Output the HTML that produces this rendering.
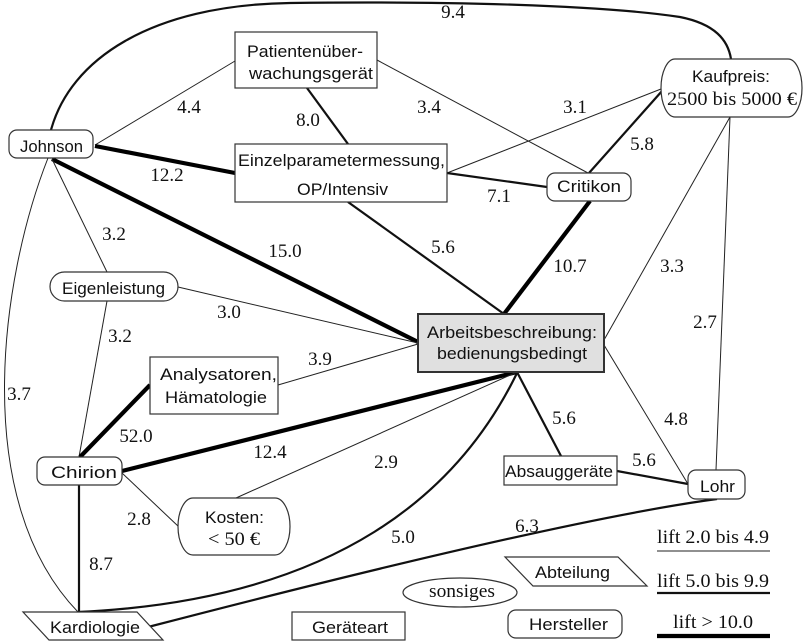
<!DOCTYPE html>
<html>
<head>
<meta charset="utf-8">
<style>
html,body{margin:0;padding:0;background:#fff;}
svg{display:block;}
.t1{stroke:#222;stroke-width:1;fill:none;}
.t2{stroke:#111;stroke-width:2.2;fill:none;}
.t3{stroke:#000;stroke-width:4.2;fill:none;}
.b{fill:#fff;stroke:#333;stroke-width:1.2;}
</style>
</head>
<body>
<svg width="804" height="642" viewBox="0 0 804 642" xmlns="http://www.w3.org/2000/svg">
<!-- edges -->
<path class="t2" d="M51,130 C70,60 150,5 290,3 C450,1 600,5 680,17 C715,24 728,40 731,59"/>
<path class="t1" d="M48,158 C0,280 -30,500 78,612"/>
<line class="t1" x1="95" y1="145" x2="235" y2="61"/>
<line class="t3" x1="95" y1="146" x2="235" y2="173"/>
<line class="t3" x1="52" y1="159" x2="418" y2="342"/>
<line class="t1" x1="52" y1="159" x2="107" y2="272"/>
<line class="t2" x1="307" y1="88" x2="348" y2="144"/>
<line class="t1" x1="377" y1="60" x2="588" y2="173"/>
<line class="t1" x1="447" y1="173" x2="661" y2="89"/>
<line class="t2" x1="447" y1="173" x2="547" y2="187"/>
<line class="t2" x1="589" y1="173" x2="662" y2="91"/>
<line class="t3" x1="590" y1="201" x2="504" y2="314"/>
<line class="t2" x1="348" y1="202" x2="504" y2="314"/>
<line class="t1" x1="730" y1="117" x2="604" y2="340"/>
<line class="t1" x1="730" y1="117" x2="716" y2="470"/>
<line class="t1" x1="604" y1="345" x2="688" y2="484"/>
<line class="t2" x1="517" y1="372" x2="561" y2="456"/>
<line class="t2" x1="617" y1="471" x2="688" y2="484"/>
<line class="t1" x1="178" y1="287" x2="418" y2="343"/>
<line class="t1" x1="107" y1="301" x2="79" y2="457"/>
<line class="t1" x1="278" y1="385" x2="418" y2="344"/>
<line class="t3" x1="150" y1="385" x2="80" y2="457"/>
<line class="t3" x1="122" y1="471" x2="517" y2="372"/>
<line class="t1" x1="236" y1="498" x2="517" y2="372"/>
<line class="t1" x1="122" y1="473" x2="179" y2="527"/>
<line class="t2" x1="79" y1="485" x2="79" y2="612"/>
<path class="t2" d="M517,373 C460,490 340,600 78,612"/>
<path class="t2" d="M148,627 Q560,520 717,499"/>

<!-- nodes -->
<rect class="b" x="235" y="32" width="142" height="56"/>
<rect class="b" x="235" y="144" width="212" height="58"/>
<rect class="b" x="9" y="130" width="84" height="28" rx="8"/>
<rect class="b" x="50" y="272" width="128" height="29" rx="14.5"/>
<rect class="b" x="547" y="173" width="84" height="28" rx="8"/>
<rect class="b" x="661" y="59" width="141" height="58" rx="14" ry="29"/>
<rect x="418" y="314" width="186" height="58" fill="#e0e0e0" stroke="#333" stroke-width="2"/>
<rect class="b" x="150" y="357" width="128" height="57"/>
<rect class="b" x="37" y="457" width="85" height="28" rx="8"/>
<rect class="b" x="178" y="498" width="112" height="57" rx="15" ry="28.5"/>
<polygon class="b" points="23,612 137,612 163,640 49,640"/>
<rect class="b" x="292" y="612" width="113" height="28"/>
<rect class="b" x="504" y="456" width="113" height="29"/>
<rect class="b" x="688" y="470" width="57" height="29" rx="8"/>
<polygon class="b" points="505,557 618,557 647,586 533,586"/>
<ellipse class="b" cx="460" cy="592.5" rx="57" ry="14.5"/>
<rect class="b" x="508" y="610" width="114" height="28" rx="8"/>

<!-- node labels (sans) -->
<g style="font-family:'Liberation Sans',Arial,sans-serif;font-size:17px;" fill="#111">
<text x="247" y="57" textLength="116" lengthAdjust="spacingAndGlyphs">Patientenüber-</text>
<text x="249" y="79" textLength="124" lengthAdjust="spacingAndGlyphs">wachungsgerät</text>
<text x="20" y="152" textLength="63" lengthAdjust="spacingAndGlyphs">Johnson</text>
<text x="238" y="166" textLength="207" lengthAdjust="spacingAndGlyphs">Einzelparametermessung,</text>
<text x="297" y="195" textLength="91" lengthAdjust="spacingAndGlyphs">OP/Intensiv</text>
<text x="62" y="294" textLength="103" lengthAdjust="spacingAndGlyphs">Eigenleistung</text>
<text x="557" y="192" textLength="64" lengthAdjust="spacingAndGlyphs">Critikon</text>
<text x="692" y="82" textLength="78" lengthAdjust="spacingAndGlyphs">Kaufpreis:</text>
<text x="427" y="338" textLength="170" lengthAdjust="spacingAndGlyphs">Arbeitsbeschreibung:</text>
<text x="437" y="359" textLength="150" lengthAdjust="spacingAndGlyphs">bedienungsbedingt</text>
<text x="160" y="380" textLength="117" lengthAdjust="spacingAndGlyphs">Analysatoren,</text>
<text x="165" y="403" textLength="102" lengthAdjust="spacingAndGlyphs">Hämatologie</text>
<text x="51" y="478" textLength="66" lengthAdjust="spacingAndGlyphs">Chirion</text>
<text x="205" y="523" textLength="59" lengthAdjust="spacingAndGlyphs">Kosten:</text>
<text x="50" y="633" textLength="90" lengthAdjust="spacingAndGlyphs">Kardiologie</text>
<text x="312" y="633" textLength="76" lengthAdjust="spacingAndGlyphs">Geräteart</text>
<text x="505" y="477" textLength="108" lengthAdjust="spacingAndGlyphs">Absauggeräte</text>
<text x="700" y="492" textLength="35" lengthAdjust="spacingAndGlyphs">Lohr</text>
<text x="535" y="578" textLength="75" lengthAdjust="spacingAndGlyphs">Abteilung</text>
<text x="529" y="630" textLength="79" lengthAdjust="spacingAndGlyphs">Hersteller</text>
</g>

<!-- serif node texts -->
<g fill="#111">
<text style="font-family:'Liberation Serif',serif;font-size:19px;" x="667" y="105" textLength="130" lengthAdjust="spacingAndGlyphs">2500 bis 5000 €</text>
<text style="font-family:'Liberation Serif',serif;font-size:19px;" x="208" y="545" textLength="52" lengthAdjust="spacingAndGlyphs">&lt; 50 €</text>
<text style="font-family:'Liberation Serif',serif;font-size:19px;" x="429" y="597" textLength="66" lengthAdjust="spacingAndGlyphs">sonsiges</text>
</g>

<!-- edge labels -->
<g fill="#111" text-anchor="middle">
<text style="font-family:'Liberation Serif',serif;font-size:19px;" x="453" y="18">9.4</text>
<text style="font-family:'Liberation Serif',serif;font-size:19px;" x="189" y="113">4.4</text>
<text style="font-family:'Liberation Serif',serif;font-size:19px;" x="308" y="126">8.0</text>
<text style="font-family:'Liberation Serif',serif;font-size:19px;" x="429" y="113">3.4</text>
<text style="font-family:'Liberation Serif',serif;font-size:19px;" x="575" y="113">3.1</text>
<text style="font-family:'Liberation Serif',serif;font-size:19px;" x="642" y="150">5.8</text>
<text style="font-family:'Liberation Serif',serif;font-size:19px;" x="167" y="181">12.2</text>
<text style="font-family:'Liberation Serif',serif;font-size:19px;" x="499" y="202">7.1</text>
<text style="font-family:'Liberation Serif',serif;font-size:19px;" x="114" y="240">3.2</text>
<text style="font-family:'Liberation Serif',serif;font-size:19px;" x="285" y="257">15.0</text>
<text style="font-family:'Liberation Serif',serif;font-size:19px;" x="443" y="253">5.6</text>
<text style="font-family:'Liberation Serif',serif;font-size:19px;" x="570" y="272">10.7</text>
<text style="font-family:'Liberation Serif',serif;font-size:19px;" x="672" y="272">3.3</text>
<text style="font-family:'Liberation Serif',serif;font-size:19px;" x="229" y="318">3.0</text>
<text style="font-family:'Liberation Serif',serif;font-size:19px;" x="120" y="342">3.2</text>
<text style="font-family:'Liberation Serif',serif;font-size:19px;" x="705" y="328">2.7</text>
<text style="font-family:'Liberation Serif',serif;font-size:19px;" x="320" y="365">3.9</text>
<text style="font-family:'Liberation Serif',serif;font-size:19px;" x="19" y="400">3.7</text>
<text style="font-family:'Liberation Serif',serif;font-size:19px;" x="136" y="442">52.0</text>
<text style="font-family:'Liberation Serif',serif;font-size:19px;" x="270" y="458">12.4</text>
<text style="font-family:'Liberation Serif',serif;font-size:19px;" x="386" y="468">2.9</text>
<text style="font-family:'Liberation Serif',serif;font-size:19px;" x="564" y="424">5.6</text>
<text style="font-family:'Liberation Serif',serif;font-size:19px;" x="676" y="425">4.8</text>
<text style="font-family:'Liberation Serif',serif;font-size:19px;" x="644" y="466">5.6</text>
<text style="font-family:'Liberation Serif',serif;font-size:19px;" x="139" y="525">2.8</text>
<text style="font-family:'Liberation Serif',serif;font-size:19px;" x="527" y="532">6.3</text>
<text style="font-family:'Liberation Serif',serif;font-size:19px;" x="403" y="543">5.0</text>
<text style="font-family:'Liberation Serif',serif;font-size:19px;" x="101" y="570">8.7</text>
</g>

<!-- legend -->
<g fill="#111">
<text style="font-family:'Liberation Serif',serif;font-size:19px;" x="657" y="543" textLength="112" lengthAdjust="spacingAndGlyphs">lift 2.0 bis 4.9</text>
<text style="font-family:'Liberation Serif',serif;font-size:19px;" x="657" y="587" textLength="112" lengthAdjust="spacingAndGlyphs">lift 5.0 bis 9.9</text>
<text style="font-family:'Liberation Serif',serif;font-size:19px;" x="673" y="628" textLength="80" lengthAdjust="spacingAndGlyphs">lift &gt; 10.0</text>
</g>
<line x1="657" y1="551" x2="770" y2="551" stroke="#222" stroke-width="1"/>
<line x1="657" y1="593" x2="770" y2="593" stroke="#111" stroke-width="2.2"/>
<line x1="657" y1="636" x2="770" y2="636" stroke="#000" stroke-width="4.2"/>
</svg>
</body>
</html>
